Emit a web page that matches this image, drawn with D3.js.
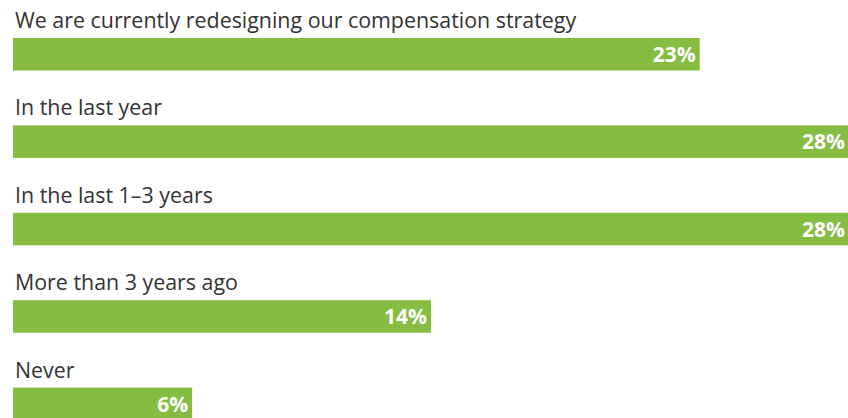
<!DOCTYPE html>
<html>
<head>
<meta charset="utf-8">
<script src="https://cdn.jsdelivr.net/npm/d3@7"></script>
<style>
  body { margin: 0; background: #fff; }
  svg { display: block; }
</style>
</head>
<body>
<svg></svg>
<script>
var categories = [
  "We are currently redesigning our compensation strategy",
  "In the last year",
  "In the last 1\u20133 years",
  "More than 3 years ago",
  "Never"
];
var values = [23, 28, 28, 14, 6];

var width = 848,
  height = 418;

var svg = d3.select("svg").attr("width", width).attr("height", height);

var x = d3.scaleLinear().domain([0, 28]).range([13, 849]);

var y = d3
  .scaleBand()
  .domain(categories)
  .range([0, 437])
  .paddingInner(0)
  .paddingOuter(0);

var rows = svg
  .selectAll(".row")
  .data(categories)
  .join("g")
  .attr("class", "row")
  .attr("transform", function (d) {
    return "translate(0," + y(d) + ")";
  });

rows
  .append("text")
  .attr("x", 15)
  .attr("y", 28)
  .attr("fill", "#333")
  .attr("font-family", "'Open Sans', sans-serif")
  .attr("font-size", "21.4px")
  .text(function (d) {
    return d;
  });

rows
  .append("rect")
  .attr("x", x(0))
  .attr("y", 38)
  .attr("height", 32.5)
  .attr("width", function (d, i) {
    return x(values[i]) - x(0);
  })
  .attr("fill", "#85bc41");

rows
  .append("text")
  .attr("x", function (d, i) {
    return x(values[i]) - 4;
  })
  .attr("y", 62)
  .attr("text-anchor", "end")
  .attr("fill", "#fff")
  .attr("font-family", "'Open Sans', sans-serif")
  .attr("font-weight", "bold")
  .attr("font-size", "21px")
  .text(function (d, i) {
    return values[i] + "%";
  });
</script>
</body>
</html>
